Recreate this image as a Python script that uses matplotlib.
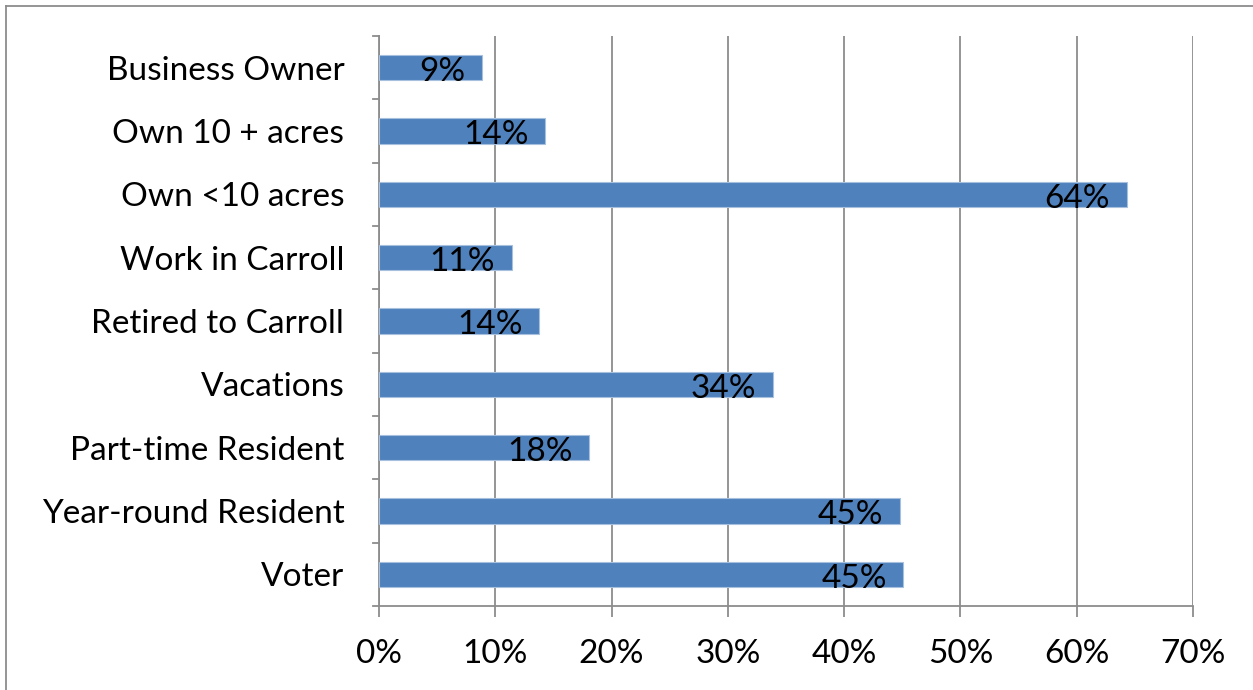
import matplotlib
matplotlib.use("Agg")
import matplotlib.pyplot as plt
from matplotlib.lines import Line2D
from matplotlib.ticker import MultipleLocator, PercentFormatter

plt.rcParams['font.family'] = ['Lato', 'DejaVu Sans']

# Respondent categories, listed bottom to top
categories = ['Voter', 'Year-round Resident', 'Part-time Resident', 'Vacations',
              'Retired to Carroll', 'Work in Carroll', 'Own <10 acres',
              'Own 10 + acres', 'Business Owner']
shares = [0.451, 0.448, 0.181, 0.339, 0.138, 0.114, 0.643, 0.143, 0.089]

bar_color = '#4F81BD'
grid_color = '#8C8C8C'

fig = plt.figure(figsize=(12.53, 6.90), dpi=100)
ax = fig.add_axes([379 / 1253, 1 - 606 / 690, (1193 - 379) / 1253, (606 - 36) / 690])

pos = range(len(categories))
ax.barh(pos, shares, height=0.4, color=bar_color, edgecolor='#A7C0DE', linewidth=0.8, zorder=3)

# value labels just inside the end of each bar
for y, v in zip(pos, shares):
    ax.annotate(f'{v:.0%}', xy=(v, y), xytext=(-12, -3), textcoords='offset points',
                ha='right', va='center', fontsize=24, color='black', zorder=4)

ax.set_xlim(0, 0.7)
ax.set_ylim(-0.5, len(categories) - 0.5)
ax.xaxis.set_major_locator(MultipleLocator(0.1))
ax.xaxis.set_major_formatter(PercentFormatter(1.0, decimals=0))
ax.grid(axis='x', color=grid_color, linewidth=1.3, zorder=0)

ax.set_yticks(list(pos))
ax.set_yticklabels(categories)
ax.tick_params(axis='y', length=0, pad=25, labelsize=24)
ax.tick_params(axis='x', length=8, width=1.3, color=grid_color, pad=16, labelsize=24)

# small outward ticks on the category axis sit between categories
for b in [i - 0.5 for i in range(len(categories) + 1)]:
    ax.plot([-0.005, 0], [b, b], color=grid_color, linewidth=1.3, clip_on=False, zorder=2)

for side in ['top', 'right']:
    ax.spines[side].set_visible(False)
for side in ['left', 'bottom']:
    ax.spines[side].set_color(grid_color)
    ax.spines[side].set_linewidth(1.3)

# chart area frame (top and left edges)
fig.add_artist(Line2D([6 / 1253, 1.0], [1 - 6 / 690, 1 - 6 / 690], transform=fig.transFigure,
                      color='#8C8C8C', linewidth=1.3))
fig.add_artist(Line2D([6 / 1253, 6 / 1253], [0, 1 - 6 / 690], transform=fig.transFigure,
                      color='#8C8C8C', linewidth=1.3))

fig.savefig('out.png', dpi=100)
